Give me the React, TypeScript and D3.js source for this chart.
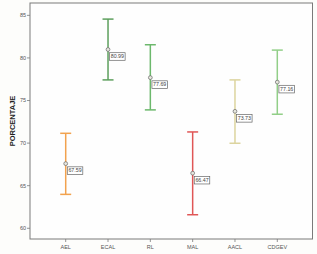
import React from "react";
import * as d3 from "d3";

const categories = ["AEL", "ECAL", "RL", "MAL", "AACL", "CDGEV"];
const means = [67.59, 80.99, 77.69, 66.47, 73.73, 77.16];
const upper = [71.15, 84.56, 81.55, 71.31, 77.42, 80.92];
const lower = [63.98, 77.42, 73.9, 61.59, 69.98, 73.39];
const meanLabels = ["67.59", "80.99", "77.69", "66.47", "73.73", "77.16"];
const colors = ["#f2a24e", "#5d9f5d", "#6cb86c", "#e05656", "#dcd49e", "#92cf88"];
const yTicks = [60, 65, 70, 75, 80, 85];

const W = 317, H = 254;
const L = 30, R = 312.5, T = 3, B = 239;

export default function App() {
  const y = d3.scaleLinear().domain([58.74, 86.45]).range([B, T]);
  const x = d3.scalePoint<string>().domain(categories).range([65.7, 277.3]);
  const font = "Arial, 'Liberation Sans', sans-serif";
  return (
    <svg width={W} height={H} style={{ position: "absolute", left: 0, top: 0, background: "#fdfdfb" }}>
      <rect x={0} y={0} width={W} height={H} fill="#fdfdfb" />
      <rect x={L} y={T} width={R - L} height={B - T} fill="#fefefe" stroke="#7a7a7a" strokeWidth={1} />
      {yTicks.map((t) => (
        <g key={t}>
          <line x1={L - 3} x2={L} y1={y(t)} y2={y(t)} stroke="#7a7a7a" strokeWidth={0.8} />
          <text x={L - 4} y={y(t)} dy="0.35em" textAnchor="end" fontSize={5.5} fill="#555" fontFamily={font}>{t}</text>
        </g>
      ))}
      {categories.map((c) => (
        <g key={c}>
          <line x1={x(c)} x2={x(c)} y1={B} y2={B + 3} stroke="#7a7a7a" strokeWidth={0.8} />
          <text x={x(c)} y={B + 8} dy="0.35em" textAnchor="middle" fontSize={5.5} fill="#555" fontFamily={font}>{c}</text>
        </g>
      ))}
      <text transform={`translate(12.5,${(T + B) / 2}) rotate(-90)`} textAnchor="middle" dy="0.35em" fontSize={7.5} fontWeight="bold" fill="#222" fontFamily={font}>PORCENTAJE</text>
      {categories.map((c, i) => {
        const cx = x(c) as number;
        const cy = y(means[i]);
        return (
          <g key={c}>
            <line x1={cx} x2={cx} y1={y(upper[i])} y2={y(lower[i])} stroke={colors[i]} strokeWidth={1.5} />
            <line x1={cx - 5.5} x2={cx + 5.5} y1={y(upper[i])} y2={y(upper[i])} stroke={colors[i]} strokeWidth={1.5} />
            <line x1={cx - 5.5} x2={cx + 5.5} y1={y(lower[i])} y2={y(lower[i])} stroke={colors[i]} strokeWidth={1.5} />
            <circle cx={cx} cy={cy} r={1.9} fill="#e8e8e0" stroke="#666" strokeWidth={0.7} />
            <rect x={cx + 1.6} y={cy + 3.2} width={15.5} height={7.6} fill="#fff" stroke="#666" strokeWidth={0.7} />
            <text x={cx + 9.35} y={cy + 7} dy="0.35em" textAnchor="middle" fontSize={5.3} fill="#444" fontFamily={font}>{meanLabels[i]}</text>
          </g>
        );
      })}
    </svg>
  );
}
